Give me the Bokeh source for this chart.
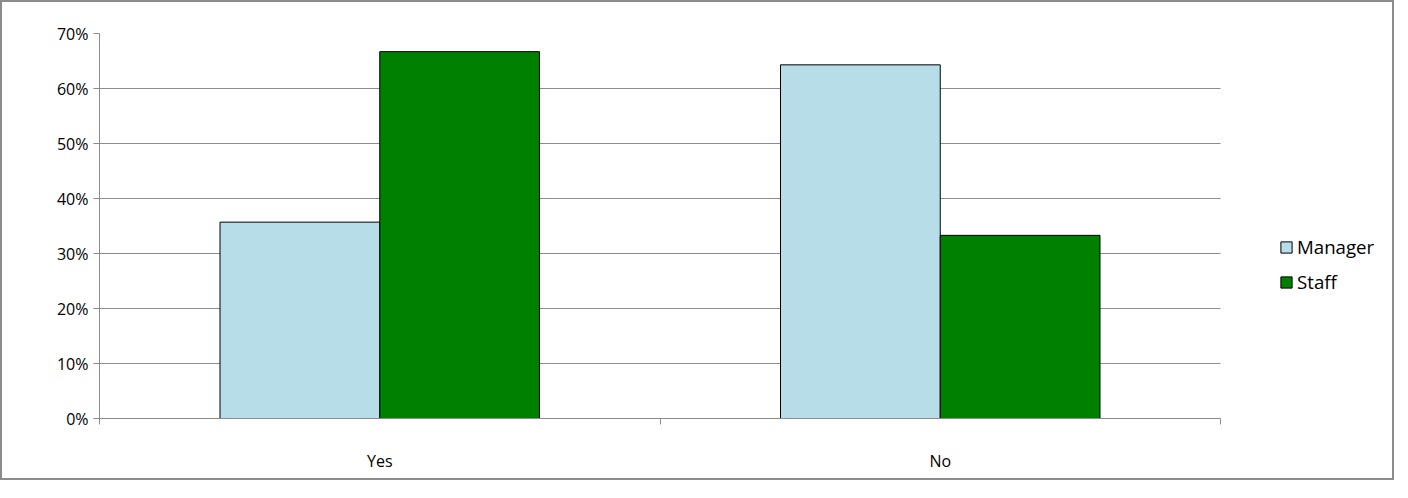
from bokeh.plotting import figure
from bokeh.models import ColumnDataSource, Legend, LegendItem, NumeralTickFormatter, FixedTicker
from bokeh.transform import dodge
from bokeh.embed import file_html
from bokeh.resources import INLINE

answers = ["Yes", "No"]
manager = [0.357, 0.643]
staff = [0.667, 0.333]

xs = [i + 0.5 for i in range(len(answers))]
source = ColumnDataSource(data=dict(x=xs, manager=manager, staff=staff))

n = len(answers)
p = figure(x_range=(0, n * 1293 / 1121), y_range=(0, 0.7),
           frame_width=1293, frame_height=385,
           min_border_left=97, min_border_top=31, min_border_bottom=60, min_border_right=0,
           output_backend="svg", toolbar_location=None)
p.styles = {"border": "2px solid #8c8c8c"}

r1 = p.vbar(x=dodge('x', -0.1425), top='manager', width=0.285,
            source=source, fill_color="#b7dde8", line_color="black", line_width=1)
r2 = p.vbar(x=dodge('x', 0.1425), top='staff', width=0.285,
            source=source, fill_color="#008000", line_color="black", line_width=1)

legend = Legend(items=[LegendItem(label="Manager", renderers=[r1]),
                       LegendItem(label="Staff", renderers=[r2])],
                border_line_color=None, background_fill_alpha=0, label_text_font="Open Sans",
                label_text_font_size="14pt", label_text_color="black",
                glyph_width=14, glyph_height=14,
                spacing=10, padding=4, label_standoff=4, location=(1180, 124))
p.add_layout(legend, "center")

p.outline_line_color = None
p.xgrid.grid_line_color = None
p.ygrid.grid_line_color = "#8c8c8c"
p.ygrid.cross_bounds = (0, n)
p.xaxis.bounds = (0, n)
p.xaxis.ticker = FixedTicker(ticks=xs, minor_ticks=list(range(n + 1)))
p.xaxis.major_label_overrides = {x: a for x, a in zip(xs, answers)}
p.yaxis.ticker = FixedTicker(ticks=[0, 0.1, 0.2, 0.3, 0.4, 0.5, 0.6, 0.7])
p.yaxis.formatter = NumeralTickFormatter(format="0%")
p.yaxis.minor_tick_line_color = None
for ax in (p.xaxis, p.yaxis):
    ax.axis_line_color = "#8c8c8c"
    ax.major_tick_line_color = "#8c8c8c"
    ax.major_tick_out = 6
    ax.major_tick_in = 0
    ax.major_label_text_font = "Open Sans"
    ax.major_label_text_font_size = "12pt"
    ax.major_label_text_color = "black"
p.xaxis.major_label_standoff = 25
p.xaxis.major_tick_line_color = None
p.xaxis.minor_tick_line_color = "#8c8c8c"
p.xaxis.minor_tick_out = 6
p.xaxis.minor_tick_in = 0

open("out.html", "w").write(file_html(p, INLINE))
